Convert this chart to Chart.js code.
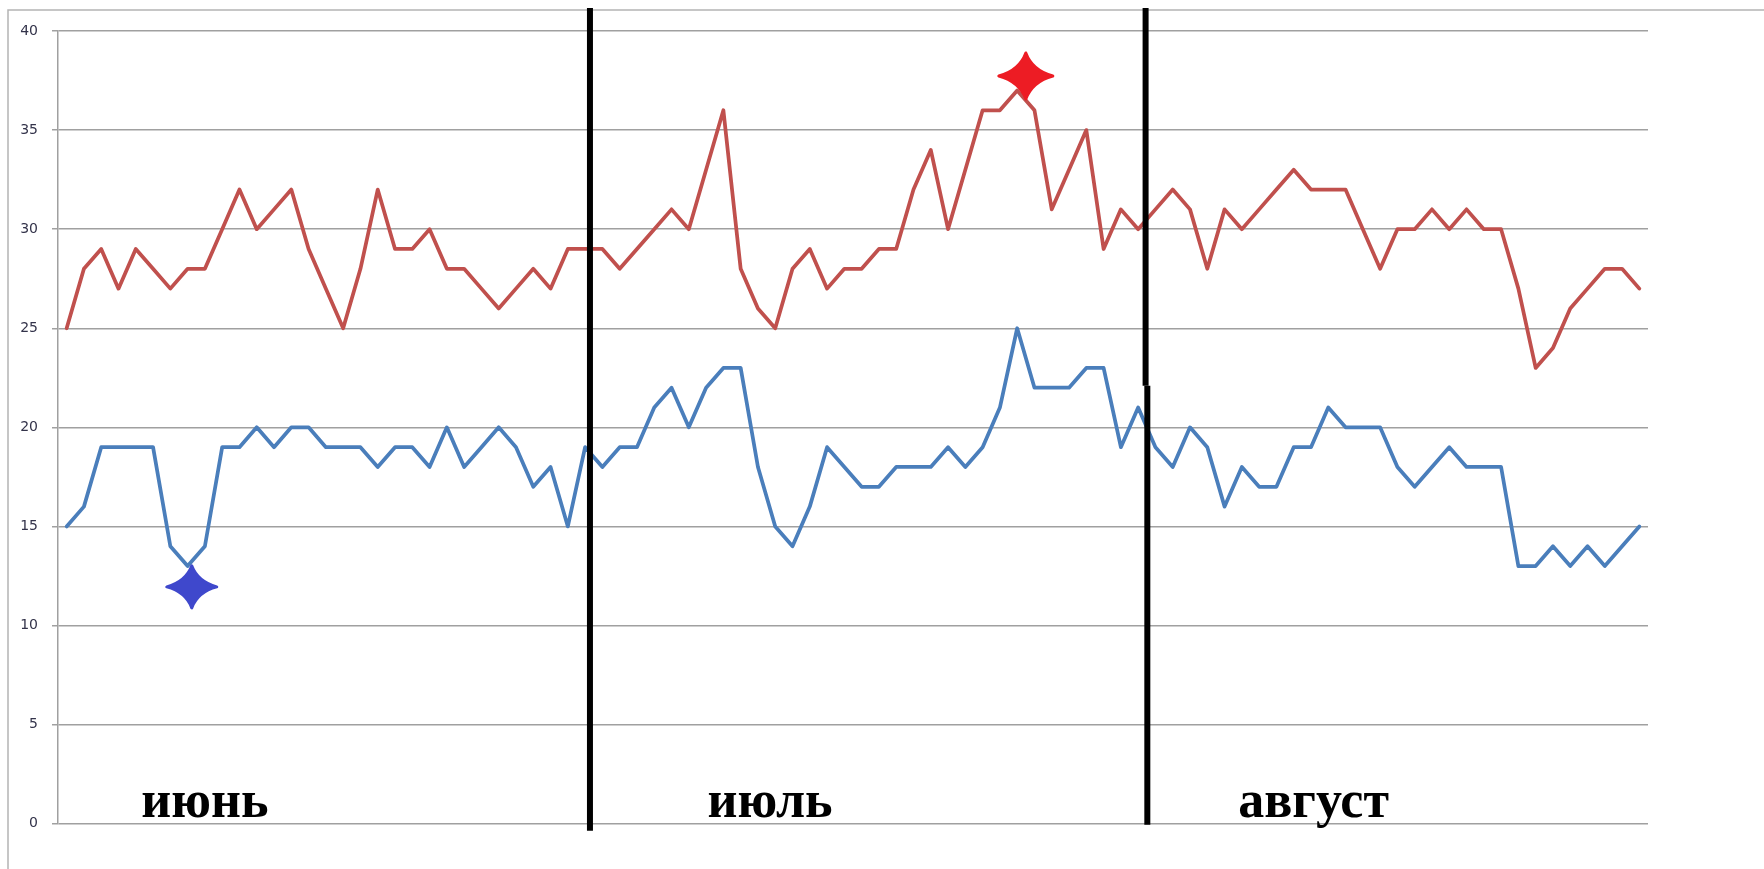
<!DOCTYPE html>
<html><head><meta charset="utf-8">
<script src="https://cdn.jsdelivr.net/npm/chart.js@4"></script>
<style>html,body{margin:0;padding:0;background:#fff;overflow:hidden}</style>
</head><body>
<canvas id="c" width="1764" height="869" style="display:block;width:1764px;height:869px"></canvas>
<script>
// ---- data ----
const months = ["июнь", "июль", "август"];
const monthDays = [30, 31, 31];
// daily maximum temperature
const tMax = [25,28,29,27,29,28,27,28,28,30,32,30,31,32,29,27,25,28,32,29,29,30,28,28,27,26,27,28,27,29,
              29,29,28,29,30,31,30,33,36,28,26,25,28,29,27,28,28,29,29,32,34,30,33,36,36,37,36,31,33,35,29,
              31,30,31,32,31,28,31,30,31,32,33,32,32,32,30,28,30,30,31,30,31,30,30,27,23,24,26,27,28,28,27];
// daily minimum temperature
const tMin = [15,16,19,19,19,19,14,13,14,19,19,20,19,20,20,19,19,19,18,19,19,18,20,18,19,20,19,17,18,15,
              19,18,19,19,21,22,20,22,23,23,18,15,14,16,19,18,17,17,18,18,18,19,18,19,21,25,22,22,22,23,23,
              19,21,19,18,20,19,16,18,17,17,19,19,21,20,20,20,18,17,18,19,18,18,18,13,13,14,13,14,13,14,15];
const yTicks = [0, 5, 10, 15, 20, 25, 30, 35, 40];
// categories: one per day
const categories = [];
months.forEach((m, mi) => { for (let d = 1; d <= monthDays[mi]; d++) categories.push(d + " " + m); });

// hand-drawn annotations, in category index / value units
const monthLabelPos = [8.0, 40.7, 72.15];
const separatorLines = [
  [{x: 30.28, top: true}, {x: 30.28, bottomExtra: 7}],
  [{x: 62.43, top: true}, {x: 62.43, yv: 22.1}],
  [{x: 62.53, yv: 22.1}, {x: 62.53, bottomExtra: 1}]
];
const stars = [
  {x: 7.24, y: 11.95, w: 25, h: 21, color: "#3F48CC"},
  {x: 55.5, y: 37.73, w: 27, h: 23, color: "#ED1C24"}
];

function drawStar(ctx, cx, cy, w, h, color) {
  const k = 0.24;
  ctx.beginPath();
  ctx.moveTo(cx, cy - h);
  ctx.quadraticCurveTo(cx + w * k, cy - h * k, cx + w, cy);
  ctx.quadraticCurveTo(cx + w * k, cy + h * k, cx, cy + h);
  ctx.quadraticCurveTo(cx - w * k, cy + h * k, cx - w, cy);
  ctx.quadraticCurveTo(cx - w * k, cy - h * k, cx, cy - h);
  ctx.closePath();
  ctx.fillStyle = color;
  ctx.fill();
  ctx.strokeStyle = color;
  ctx.lineWidth = 3;
  ctx.lineJoin = "round";
  ctx.stroke();
}

const decorPlugin = {
  id: "decor",
  beforeDraw(chart) {
    const ctx = chart.ctx;
    ctx.save();
    ctx.fillStyle = "#fff";
    ctx.fillRect(0, 0, chart.width, chart.height);
    ctx.strokeStyle = "#b4b4b4";
    ctx.lineWidth = 1.5;
    ctx.beginPath();
    ctx.moveTo(8, chart.height);
    ctx.lineTo(8, 10);
    ctx.lineTo(chart.width, 10);
    ctx.stroke();
    ctx.restore();
  },
  afterDatasetsDraw(chart) {
    const ctx = chart.ctx;
    const xs = chart.scales.x, ys = chart.scales.y;
    const ca = chart.chartArea;
    ctx.save();
    // month separators
    ctx.strokeStyle = "#000";
    ctx.lineWidth = 6;
    ctx.lineCap = "butt";
    separatorLines.forEach(seg => {
      const pts = seg.map(p => {
        const px = xs.getPixelForValue(p.x);
        let py;
        if (p.top) py = 8;
        else if (p.bottomExtra !== undefined) py = ca.bottom + p.bottomExtra;
        else py = ys.getPixelForValue(p.yv);
        return [px, py];
      });
      ctx.beginPath();
      ctx.moveTo(pts[0][0], pts[0][1]);
      ctx.lineTo(pts[1][0], pts[1][1]);
      ctx.stroke();
    });
    // stars
    stars.forEach(s => drawStar(ctx, xs.getPixelForValue(s.x), ys.getPixelForValue(s.y), s.w, s.h, s.color));
    // month labels
    ctx.fillStyle = "#000";
    ctx.font = "bold 52px 'Liberation Serif', 'Times New Roman', serif";
    ctx.textAlign = "center";
    ctx.textBaseline = "alphabetic";
    months.forEach((m, i) => {
      ctx.fillText(m, xs.getPixelForValue(monthLabelPos[i]), ca.bottom - 7);
    });
    ctx.restore();
  }
};

new Chart(document.getElementById("c"), {
  type: "line",
  data: {
    labels: categories,
    datasets: [
      {label: "max", data: tMax, borderColor: "#C0504D", borderWidth: 3.75, pointRadius: 0, tension: 0,
       borderJoinStyle: "round", borderCapStyle: "round", fill: false},
      {label: "min", data: tMin, borderColor: "#4A7EBB", borderWidth: 3.75, pointRadius: 0, tension: 0,
       borderJoinStyle: "round", borderCapStyle: "round", fill: false}
    ]
  },
  options: {
    responsive: false,
    animation: false,
    devicePixelRatio: 1,
    layout: {padding: {left: 0, right: 116, top: 31, bottom: 45.3}},
    plugins: {legend: {display: false}, tooltip: {enabled: false}},
    scales: {
      x: {type: "category", display: false, offset: true},
      y: {
        min: 0, max: 40,
        afterBuildTicks(scale) { scale.ticks = yTicks.map(v => ({value: v})); },
        afterFit(scale) { scale.width = 58; },
        ticks: {padding: 14, color: "#33334a", font: {family: "'DejaVu Sans', sans-serif", size: 14}},
        grid: {color: "#a0a0a0", lineWidth: 1.5, tickLength: 6, drawTicks: true},
        border: {display: true, color: "#a0a0a0", width: 1.5}
      }
    }
  },
  plugins: [decorPlugin]
});
</script>
</body></html>
